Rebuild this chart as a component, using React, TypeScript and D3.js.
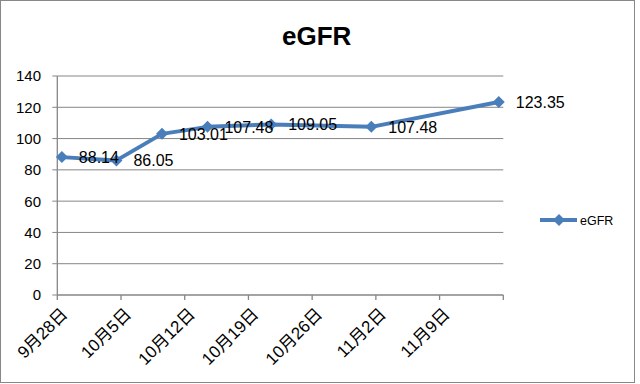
import React from "react";
import * as d3 from "d3";

const pointDates = ["2015-09-28", "2015-10-04", "2015-10-09", "2015-10-14", "2015-10-21", "2015-11-01", "2015-11-15"];
const values = [88.14, 86.05, 103.01, 107.48, 109.05, 107.48, 123.35];
const labels = ["88.14", "86.05", "103.01", "107.48", "109.05", "107.48", "123.35"];
const xTickDates = ["2015-09-28", "2015-10-05", "2015-10-12", "2015-10-19", "2015-10-26", "2015-11-02", "2015-11-09", "2015-11-16"];
const xTickLabels = ["9月28日", "10月5日", "10月12日", "10月19日", "10月26日", "11月2日", "11月9日", ""];
const yTicks = [0, 20, 40, 60, 80, 100, 120, 140];
const seriesName = "eGFR";
const title = "eGFR";

const parse = (s: string) => {
  const [y, m, d] = s.split("-").map(Number);
  return new Date(y, m - 1, d);
};

export default function App() {
  const W = 640, H = 384;
  const left = 57.3, right = 503.3, top = 76, bottom = 295;
  const x = d3.scaleTime().domain([parse("2015-09-28"), parse("2015-11-16")]).range([left, right]);
  const y = d3.scaleLinear().domain([0, 140]).range([bottom, top]);
  const half = 12 * 3600 * 1000;
  const pts = pointDates.map((d, i) => [x(new Date(parse(d).getTime() + half)), y(values[i])] as [number, number]);
  const line = d3.line()(pts) || "";
  const marker = d3.symbol(d3.symbolSquare, 72)() || "";
  const grid = "#868686";
  const blue = "#4a7ebb";
  const font = "'Liberation Sans', 'Noto Sans CJK SC', sans-serif";

  return (
    <svg width={W} height={H} style={{ position: "absolute", left: 0, top: 0, background: "#fff" }} fontFamily={font}>
      <rect x={0.5} y={0.5} width={634} height={382} fill="#fff" stroke="#888" strokeWidth={1} />
      <text x={316.7} y={45} textAnchor="middle" fontSize={26} fontWeight="bold" fill="#000">{title}</text>
      {yTicks.map((t) => (
        <g key={t}>
          {t > 0 && <line x1={left} x2={right} y1={y(t)} y2={y(t)} stroke={grid} strokeWidth={1} />}
          <line x1={left - 5} x2={left} y1={y(t)} y2={y(t)} stroke={grid} strokeWidth={1} />
          <text x={41} y={y(t)} dy="0.36em" textAnchor="end" fontSize={15} fill="#000">{t}</text>
        </g>
      ))}
      <line x1={left} x2={left} y1={top} y2={bottom} stroke={grid} strokeWidth={1.3} />
      <line x1={left} x2={right} y1={bottom} y2={bottom} stroke={grid} strokeWidth={1.3} />
      {xTickDates.map((d, i) => {
        const tx = x(parse(d));
        return (
          <g key={d}>
            <line x1={tx} x2={tx} y1={bottom} y2={bottom + 5} stroke={grid} strokeWidth={1.3} />
            {xTickLabels[i] && (
              <text transform={`translate(${tx + 7},${bottom + 16}) rotate(-45)`} textAnchor="end" dy="0.35em" fontSize={17} fill="#000">
                {xTickLabels[i]}
              </text>
            )}
          </g>
        );
      })}
      <path d={line} fill="none" stroke={blue} strokeWidth={4} strokeLinejoin="round" />
      {pts.map((p, i) => (
        <path key={i} d={marker} transform={`translate(${p[0]},${p[1]}) rotate(45)`} fill={blue} />
      ))}
      {pts.map((p, i) => (
        <text key={i} x={p[0] + 17} y={p[1]} dy="0.36em" fontSize={16} fill="#000">{labels[i]}</text>
      ))}
      <line x1={540} x2={577} y1={220} y2={220} stroke={blue} strokeWidth={4} />
      <path d={marker} transform={`translate(559,220) rotate(45)`} fill={blue} />
      <text x={580} y={220} dy="0.36em" fontSize={12.5} fill="#000">{seriesName}</text>
    </svg>
  );
}
